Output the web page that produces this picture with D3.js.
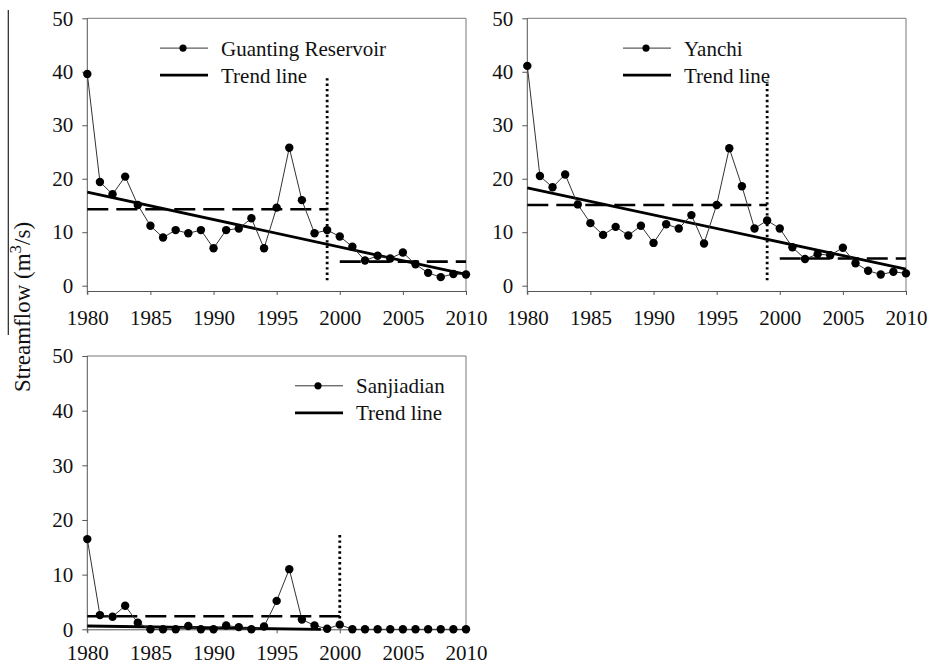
<!DOCTYPE html>
<html>
<head>
<meta charset="utf-8">
<script src="https://cdn.jsdelivr.net/npm/d3@7"></script>
<style>
  body { margin: 0; background: #fff; }
</style>
</head>
<body>
<svg id="chart" width="929" height="665"></svg>
<script>
// data
const years = d3.range(1980, 2011);
const xTicks = [1980, 1985, 1990, 1995, 2000, 2005, 2010];
const yTicks = [0, 10, 20, 30, 40, 50];

const guanting = [39.6, 19.4, 17.1, 20.4, 15.1, 11.2, 9.0, 10.4, 9.8, 10.4, 7.0, 10.4, 10.7, 12.6, 7.0, 14.6, 25.8, 16.0, 9.8, 10.4,
  9.2, 7.3, 4.7, 5.6, 5.1, 6.2, 4.0, 2.4, 1.6, 2.2, 2.1];
const yanchi = [41.1, 20.5, 18.4, 20.8, 15.2, 11.7, 9.5, 11.0, 9.4, 11.2, 8.0, 11.5, 10.7, 13.2, 7.9, 15.1, 25.7, 18.6, 10.7, 12.2,
  10.7, 7.2, 5.0, 5.9, 5.7, 7.1, 4.2, 2.8, 2.1, 2.6, 2.3];
const sanjiadian = [16.5, 2.6, 2.3, 4.3, 1.2, 0, 0, 0, 0.6, 0, 0, 0.7, 0.4, 0, 0.5, 5.2, 11.0, 1.8, 0.7, 0.1,
  0.85, 0, 0, 0, 0, 0, 0, 0, 0, 0, 0];

const guantingTrend = [[1980, 17.5], [2010, 2.1]];
const yanchiTrend = [[1980, 18.3], [2010, 3.1]];
const sanjiadianTrend = [[1980, 0.6], [1998.5, 0]];

const guantingMeans = [[1980, 1999, 14.3], [2000, 2010, 4.5]];
const yanchiMeans = [[1980, 1999, 15.1], [2000, 2010, 5.1]];
const sanjiadianMeans = [[1980, 2000, 2.4]];

const guantingBreak = [1999, 1, 39];
const yanchiBreak = [1999, 1, 38.5];
const sanjiadianBreak = [2000, 1, 17.6];

const FONT = "'Liberation Serif'";

// panel layout
const panels = [
  { name: "Guanting Reservoir", values: guanting, trend: guantingTrend, means: guantingMeans, brk: guantingBreak,
    x0: 87.3, x1: 466, y0: 285.7, y1: 18.3, axisY: 291, legX: 72.7, pad: 15 },
  { name: "Yanchi", values: yanchi, trend: yanchiTrend, means: yanchiMeans, brk: yanchiBreak,
    x0: 527.3, x1: 906, y0: 285.7, y1: 18.3, axisY: 291, legX: 95.7, pad: 15 },
  { name: "Sanjiadian", values: sanjiadian, trend: sanjiadianTrend, means: sanjiadianMeans, brk: sanjiadianBreak,
    x0: 87.3, x1: 466, y0: 629.3, y1: 356, axisY: 629.3, legX: 207.7, pad: 12 }
];

const svg = d3.select("#chart");

panels.forEach(p => {
  const x = d3.scaleLinear().domain([1980, 2010]).range([p.x0, p.x1]);
  const y = d3.scaleLinear().domain([0, 50]).range([p.y0, p.y1]);
  const g = svg.append("g");

  // frame top and right
  g.append("path")
    .attr("d", `M${p.x0},${p.y1}H${p.x1}V${p.axisY}`)
    .attr("fill", "none").attr("stroke", "#777").attr("stroke-width", 1);

  // y axis
  const ya = g.append("g")
    .attr("transform", `translate(${p.x0},0)`)
    .call(d3.axisLeft(y).tickValues(yTicks).tickSize(5).tickSizeOuter(0).tickPadding(9));
  ya.attr("font-family", FONT).attr("font-size", 21);
  ya.select(".domain").remove();
  ya.selectAll(".tick line").attr("stroke", "#555");
  ya.selectAll("text").attr("fill", "#111");
  g.append("line")
    .attr("x1", p.x0).attr("x2", p.x0)
    .attr("y1", p.y1).attr("y2", p.axisY + 3)
    .attr("stroke", "#555");

  // x axis
  const xa = g.append("g")
    .attr("transform", `translate(0,${p.axisY})`)
    .call(d3.axisBottom(x).tickValues(xTicks).tickFormat(d3.format("d")).tickSize(4).tickSizeOuter(0).tickPadding(p.pad));
  xa.attr("font-family", FONT).attr("font-size", 21);
  xa.select(".domain").attr("stroke", "#555");
  xa.selectAll(".tick line").attr("stroke", "#555");
  xa.selectAll("text").attr("fill", "#111");

  // mean lines before/after break
  g.selectAll(".mean")
    .data(p.means)
    .enter()
    .append("line")
    .attr("x1", d => x(d[0]))
    .attr("x2", d => x(d[1]))
    .attr("y1", d => y(d[2]))
    .attr("y2", d => y(d[2]))
    .attr("stroke", "#000")
    .attr("stroke-width", 2.6)
    .attr("stroke-dasharray", "21,8");

  // break year
  g.append("line")
    .attr("x1", x(p.brk[0])).attr("x2", x(p.brk[0]))
    .attr("y1", y(p.brk[1])).attr("y2", y(p.brk[2]))
    .attr("stroke", "#000")
    .attr("stroke-width", 2.8)
    .attr("stroke-dasharray", "2.4,3");

  // trend
  g.append("line")
    .attr("x1", x(p.trend[0][0])).attr("y1", y(p.trend[0][1]))
    .attr("x2", x(p.trend[1][0])).attr("y2", y(p.trend[1][1]))
    .attr("stroke", "#000")
    .attr("stroke-width", 2.8);

  // series
  g.append("path")
    .datum(p.values)
    .attr("d", d3.line().x((d, i) => x(years[i])).y(d => y(d)))
    .attr("fill", "none")
    .attr("stroke", "#333")
    .attr("stroke-width", 1);

  g.selectAll(".pt")
    .data(p.values)
    .enter()
    .append("circle")
    .attr("cx", (d, i) => x(years[i]))
    .attr("cy", d => y(d))
    .attr("r", 4.2)
    .attr("fill", "#000");

  // legend
  const lx = p.x0 + p.legX;
  const r1 = p.y1 + 29.8;
  const r2 = r1 + 27;
  g.append("line").attr("x1", lx).attr("x2", lx + 48).attr("y1", r1).attr("y2", r1)
    .attr("stroke", "#333").attr("stroke-width", 1);
  g.append("circle").attr("cx", lx + 23).attr("cy", r1).attr("r", 3.6).attr("fill", "#000");
  g.append("text").attr("x", lx + 61).attr("y", r1 + 7.5).attr("font-size", 21)
    .attr("font-family", FONT).attr("fill", "#111").text(p.name);
  g.append("line").attr("x1", lx).attr("x2", lx + 48).attr("y1", r2).attr("y2", r2)
    .attr("stroke", "#000").attr("stroke-width", 2.8);
  g.append("text").attr("x", lx + 61).attr("y", r2 + 7.5).attr("font-size", 21)
    .attr("font-family", FONT).attr("fill", "#111").text("Trend line");
});

// shared y title with overbar
svg.append("line")
  .attr("x1", 8.3).attr("x2", 8.3)
  .attr("y1", 10).attr("y2", 335)
  .attr("stroke", "#222").attr("stroke-width", 1.2);

const title = svg.append("text")
  .attr("transform", "translate(30,307) rotate(-90)")
  .attr("text-anchor", "middle")
  .attr("font-family", FONT)
  .attr("fill", "#111")
  .attr("font-size", 23);
title.append("tspan").text("Streamflow (m");
title.append("tspan").attr("baseline-shift", "super").attr("font-size", 17).text("3");
title.append("tspan").text("/s)");
</script>
</body>
</html>
